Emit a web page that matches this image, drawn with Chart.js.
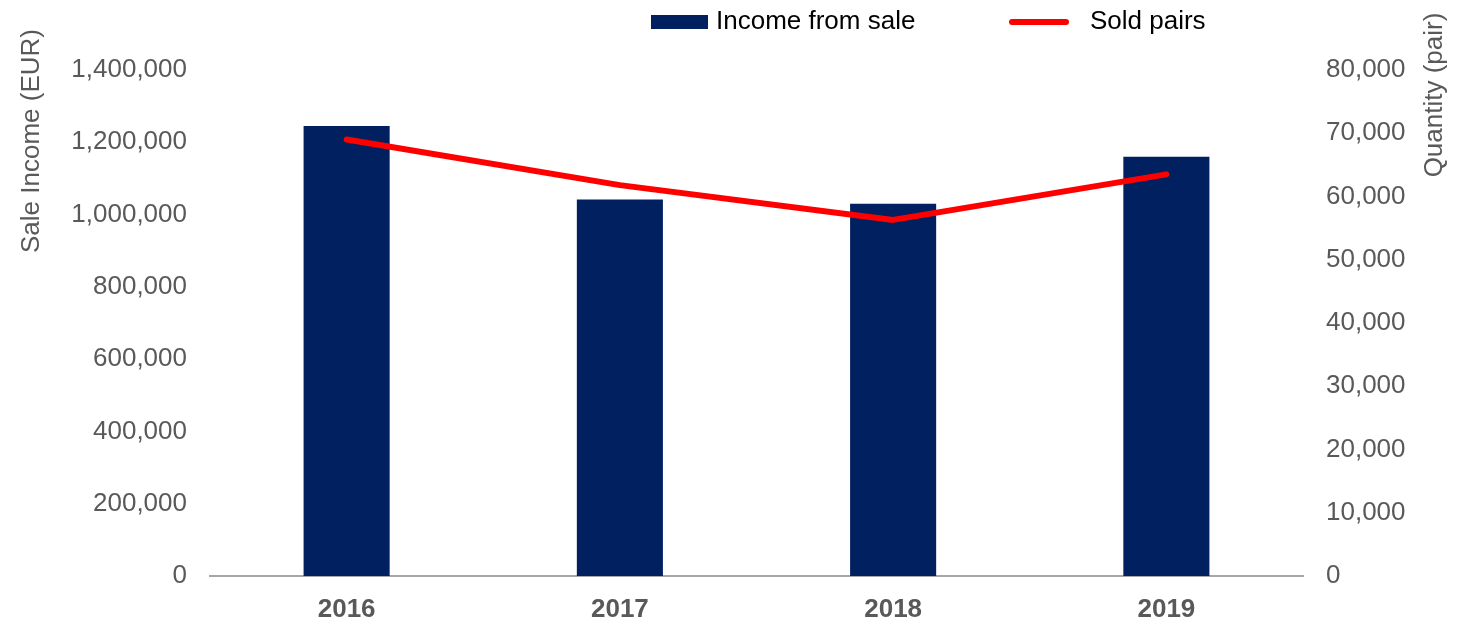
<!DOCTYPE html>
<html lang="en">
<head>
    <meta charset="UTF-8">
    <title>Income from sale / Sold pairs</title>
    <script src="https://cdn.jsdelivr.net/npm/chart.js"></script>
    <style>
        html, body { margin: 0; padding: 0; background: #fff; }
        #wrap { width: 1458px; height: 621px; }
    </style>
</head>
<body>
    <div id="wrap">
        <canvas id="salesChart" width="1458" height="621"></canvas>
    </div>
    <script>
        // data
        const years = ['2016', '2017', '2018', '2019'];
        const incomeFromSale = [1245000, 1042000, 1030000, 1160000];
        const soldPairs = [69000, 61800, 56300, 63500];

        const incomeLabel = 'Income from sale';
        const pairsLabel = 'Sold pairs';
        const leftTitle = 'Sale Income (EUR)';
        const rightTitle = 'Quantity (pair)';

        const navy = '#002060';
        const red = '#ff0000';
        const gray = '#595959';
        const FONT = '"Liberation Sans", Arial, sans-serif';

        const fmt = v => Number(v).toLocaleString('en-US');

        // legend + rotated axis titles, drawn like excel does
        const decorations = {
            id: 'decorations',
            afterDraw(chart) {
                const ctx = chart.ctx;
                ctx.save();
                // legend
                ctx.font = '26px ' + FONT;
                ctx.textBaseline = 'middle';
                ctx.textAlign = 'left';
                ctx.fillStyle = navy;
                ctx.fillRect(651, 15, 57, 14);
                ctx.fillStyle = '#000';
                ctx.fillText(incomeLabel, 716, 22);
                ctx.strokeStyle = red;
                ctx.lineWidth = 6;
                ctx.lineCap = 'round';
                ctx.beginPath();
                ctx.moveTo(1012, 22);
                ctx.lineTo(1066, 22);
                ctx.stroke();
                ctx.fillText(pairsLabel, 1090, 22);

                // axis titles, both reading bottom-to-top
                ctx.fillStyle = gray;
                ctx.textAlign = 'center';
                ctx.save();
                ctx.translate(32, 141);
                ctx.rotate(-Math.PI / 2);
                ctx.fillText(leftTitle, 0, 0);
                ctx.restore();
                ctx.translate(1435, 95);
                ctx.rotate(-Math.PI / 2);
                ctx.fillText(rightTitle, 0, 0);
                ctx.restore();
            }
        };

        const ctx = document.getElementById('salesChart').getContext('2d');
        new Chart(ctx, {
            type: 'bar',
            data: {
                labels: years,
                datasets: [
                    {
                        type: 'line',
                        label: pairsLabel,
                        data: soldPairs,
                        yAxisID: 'y1',
                        borderColor: red,
                        backgroundColor: red,
                        borderWidth: 6,
                        borderCapStyle: 'round',
                        borderJoinStyle: 'round',
                        pointRadius: 0,
                        tension: 0,
                        order: 0,
                    },
                    {
                        type: 'bar',
                        label: incomeLabel,
                        data: incomeFromSale,
                        yAxisID: 'y',
                        backgroundColor: navy,
                        borderWidth: 0,
                        categoryPercentage: 1,
                        barPercentage: 0.315,
                        order: 1,
                    },
                ],
            },
            options: {
                responsive: false,
                animation: false,
                layout: { padding: { top: 70, bottom: 0, left: 0, right: 0 } },
                plugins: {
                    legend: { display: false },
                    tooltip: { enabled: false },
                },
                scales: {
                    x: {
                        grid: { display: false, drawTicks: false },
                        border: { display: true, color: '#a6a6a6', width: 2 },
                        ticks: {
                            color: gray,
                            padding: 18,
                            font: { family: FONT, size: 26, weight: 'bold' },
                        },
                        afterFit(scale) { scale.height = 45; },
                    },
                    y: {
                        position: 'left',
                        min: 0,
                        max: 1400000,
                        grid: { display: false, drawTicks: false },
                        border: { display: false },
                        ticks: {
                            stepSize: 200000,
                            color: gray,
                            padding: 23,
                            font: { family: FONT, size: 26 },
                            callback: fmt,
                        },
                        afterFit(scale) { scale.width = 210; },
                    },
                    y1: {
                        position: 'right',
                        min: 0,
                        max: 80000,
                        grid: { display: false, drawTicks: false },
                        border: { display: false },
                        ticks: {
                            stepSize: 10000,
                            color: gray,
                            padding: 23,
                            font: { family: FONT, size: 26 },
                            callback: fmt,
                        },
                        afterFit(scale) { scale.width = 155; },
                    },
                },
            },
            plugins: [decorations],
        });
    </script>
</body>
</html>
